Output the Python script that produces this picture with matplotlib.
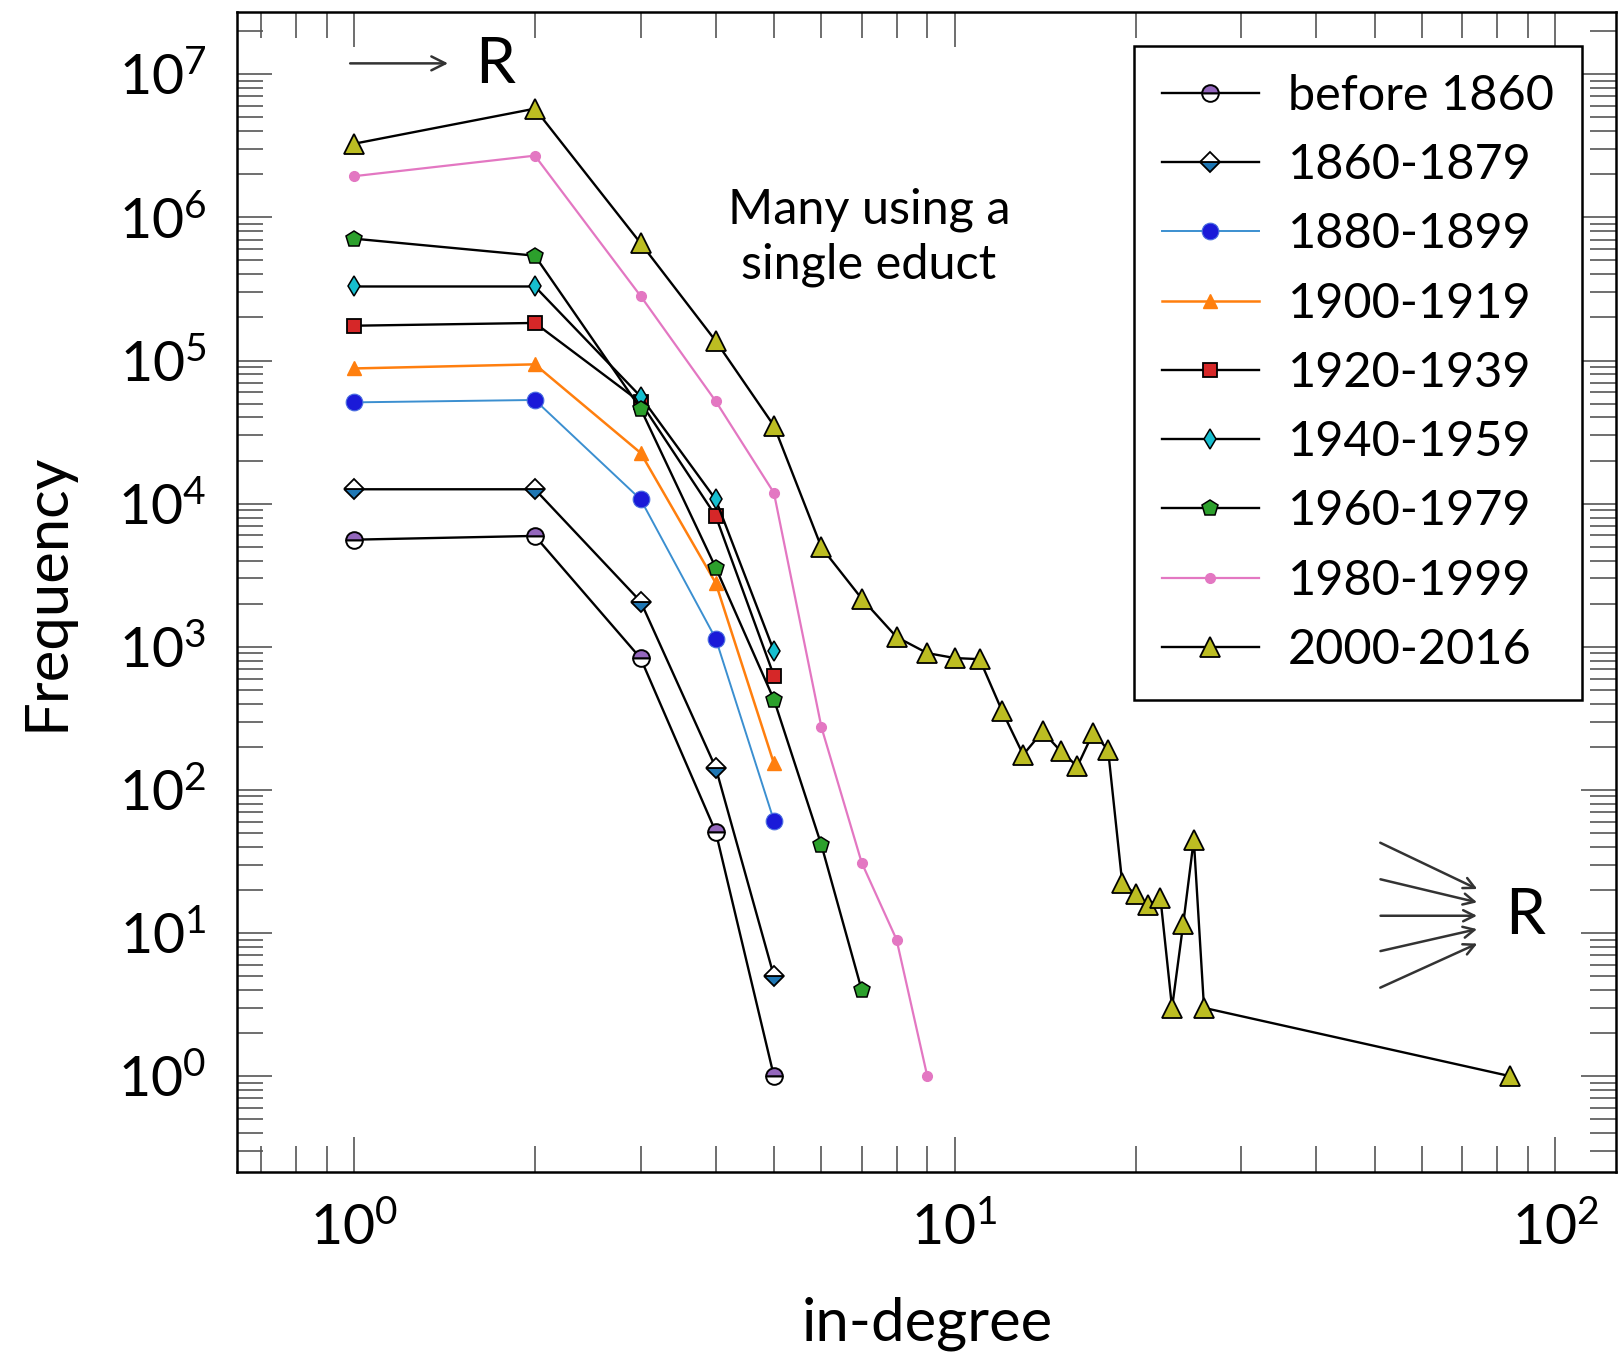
import matplotlib
matplotlib.use('Agg')
import matplotlib.pyplot as plt

plt.rcParams['font.family'] = ['Lato', 'DejaVu Sans']
plt.rcParams['mathtext.fontset'] = 'custom'
plt.rcParams['mathtext.rm'] = 'Lato'
plt.rcParams['mathtext.it'] = 'Lato:italic'

# data (in-degree vs frequency)
x_before1860 = [1, 2, 3, 4, 5]
y_before1860 = [5600, 5950, 830, 51, 1]

x_1860 = [1, 2, 3, 4, 5]
y_1860 = [12600, 12600, 2070, 143, 5]

x_1880 = [1, 2, 3, 4, 5]
y_1880 = [51000, 53000, 10700, 1140, 61]

x_1900 = [1, 2, 3, 4, 5]
y_1900 = [88000, 94000, 22600, 2790, 153]

x_1920 = [1, 2, 3, 4, 5]
y_1920 = [175000, 183000, 51000, 8200, 627]

x_1940 = [1, 2, 3, 4, 5]
y_1940 = [329000, 329000, 56000, 10700, 935]

x_1960 = [1, 2, 3, 4, 5, 6, 7]
y_1960 = [710000, 540000, 46000, 3570, 428, 41, 4]

x_1980 = [1, 2, 3, 4, 5, 6, 7, 8, 9]
y_1980 = [1940000, 2700000, 282000, 52000, 11900, 273, 31, 9, 1]

x_2000 = [1, 2, 3, 4, 5, 6, 7, 8, 9, 10, 11, 12, 13, 14, 15, 16, 17, 18,
          19, 20, 21, 22, 23, 24, 25, 26, 84]
y_2000 = [3270000, 5750000, 660000, 137000, 35000, 4940, 2170, 1170, 903,
          834, 819, 353, 176, 256, 187, 146, 251, 190, 22.5, 18.6, 15.8,
          17.5, 3, 11.5, 45, 3, 1]

fig = plt.figure(figsize=(16.18, 13.57), dpi=100)
ax = fig.add_axes([0.1465, 0.1363, 0.8525, 0.8546])

lw = 1.7
ax.plot(x_before1860, y_before1860, color='black', lw=lw, marker='o', ms=12,
        mfc='#9467bd', mfcalt='white', fillstyle='top', mec='black', mew=1.4,
        label='before 1860', zorder=3)
ax.plot(x_1860, y_1860, color='black', lw=lw, marker='D', ms=10,
        mfc='#1f77b4', mfcalt='white', fillstyle='bottom', mec='black', mew=1.3,
        label='1860-1879', zorder=3)
ax.plot(x_1880, y_1880, color='#3b8fd0', lw=1.4, marker='o', ms=12,
        mfc='#1a1ad8', mec='#4a6fe0', mew=0.8, label='1880-1899', zorder=3)
ax.plot(x_1900, y_1900, color='#ff7f0e', lw=1.8, marker='^', ms=10,
        mfc='#ff7f0e', mec='#ff7f0e', label='1900-1919', zorder=3)
ax.plot(x_1920, y_1920, color='black', lw=lw, marker='s', ms=10,
        mfc='#d62728', mec='black', mew=1.3, label='1920-1939', zorder=3)
ax.plot(x_1940, y_1940, color='black', lw=lw, marker='d', ms=10.5,
        mfc='#17becf', mec='black', mew=1.1, label='1940-1959', zorder=3)
ax.plot(x_1960, y_1960, color='black', lw=lw, marker='p', ms=12,
        mfc='#2ca02c', mec='black', mew=1.1, label='1960-1979', zorder=3)
ax.plot(x_1980, y_1980, color='#e377c2', lw=1.6, marker='o', ms=7,
        mfc='#e377c2', mec='#e377c2', label='1980-1999', zorder=3)
ax.plot(x_2000, y_2000, color='black', lw=lw, marker='^', ms=14,
        mfc='#bcbd22', mec='black', mew=1.3, label='2000-2016', zorder=3)

ax.set_xscale('log')
ax.set_yscale('log')
ax.set_xlim(0.6386, 126.3)
ax.set_ylim(10 ** -0.67, 10 ** 7.4325)

ax.set_xticks([1, 10, 100])
ax.set_xticklabels([r'$10^0$', r'$10^1$', r'$10^2$'])
ax.set_yticks([10 ** i for i in range(8)])
ax.set_yticklabels([r'$10^{%d}$' % i for i in range(8)])

ax.tick_params(which='both', direction='in', top=True, right=True,
               color='#555555', width=1.2, labelsize=40)
ax.tick_params(which='major', length=25, pad=22)
ax.tick_params(which='minor', length=19)
for s in ax.spines.values():
    s.set_linewidth(1.8)

ax.set_xlabel('in-degree', fontsize=43, labelpad=30)
ax.set_ylabel('Frequency', fontsize=43, labelpad=32)

# reaction annotations
ax.annotate('', xy=(0.155, 0.956), xytext=(0.080, 0.956), xycoords='axes fraction',
            arrowprops=dict(arrowstyle='->', color='#333333', lw=1.8, mutation_scale=25))
ax.text(0.187, 0.955, 'R', transform=ax.transAxes, fontsize=46,
        ha='center', va='center')

starts = [0.285, 0.253, 0.221, 0.190, 0.158]
ends = [0.243, 0.232, 0.221, 0.210, 0.198]
for y0, y1 in zip(starts, ends):
    ax.annotate('', xy=(0.901, y1), xytext=(0.827, y0), xycoords='axes fraction',
                arrowprops=dict(arrowstyle='->', color='#333333', lw=1.8,
                                mutation_scale=20))
ax.text(0.934, 0.221, 'R', transform=ax.transAxes, fontsize=46,
        ha='center', va='center')

ax.text(0.458, 0.806, 'Many using a\nsingle educt', transform=ax.transAxes,
        fontsize=35, ha='center', va='center', linespacing=1.3)

leg = ax.legend(loc='upper right', bbox_to_anchor=(0.975, 0.971), fontsize=35,
                fancybox=False, framealpha=1, edgecolor='black',
                handlelength=2.0, labelspacing=0.52, borderpad=0.57,
                handletextpad=0.6, borderaxespad=0)
leg.get_frame().set_linewidth(1.8)

plt.savefig('out.png', dpi=100)
